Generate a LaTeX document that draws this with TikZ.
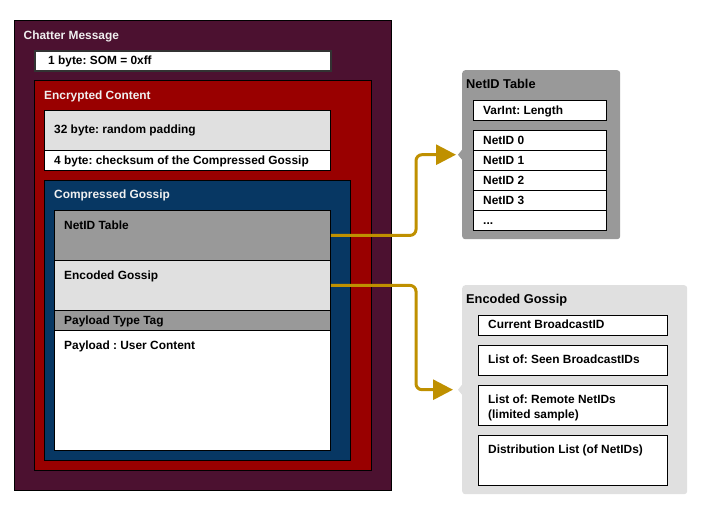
\documentclass[tikz,border=0pt]{standalone}
\usepackage{fontspec}
\setmainfont{Liberation Sans}
\usetikzlibrary{arrows.meta,calc}
\definecolor{cpurple}{HTML}{4C1130}
\definecolor{cred}{HTML}{990000}
\definecolor{cblue}{HTML}{073763}
\definecolor{cgray}{HTML}{999999}
\definecolor{clight}{HTML}{E0E0E0}
\definecolor{cgold}{HTML}{BF9000}
\definecolor{ctitle}{HTML}{F0F0F0}
\definecolor{cedge}{HTML}{333333}
\frenchspacing
\begin{document}
\begin{tikzpicture}[x=1pt,y=-1pt,
  box/.style={draw=black, line width=0.8pt, inner sep=0pt, anchor=north west, rectangle},
  grp/.style={inner sep=0pt, anchor=north west, rectangle, rounded corners=3pt},
  txt/.style={anchor=base west, inner sep=0pt, font=\frenchspacing\fontsize{11.9}{15}\selectfont\bfseries, text=black, align=left},
  ttl/.style={txt, text=ctitle},
  gttl/.style={txt, font=\frenchspacing\fontsize{12.8}{15}\selectfont\bfseries},
  conn/.style={draw=cgold, line width=3pt, rounded corners=6pt, -{Triangle[length=20pt,width=20pt]}}]
\useasboundingbox (0,0) rectangle (711,515);
% left structure
\node[box, fill=cpurple, minimum width=377pt, minimum height=470pt] (cm) at (14,20) {};
\node[ttl] (cmt) at ($(cm.north west)+(9.5,19)$) {Chatter Message};
\node[box, fill=white, draw=cedge, line width=1.5pt, minimum width=296pt, minimum height=20pt] (som) at (34,50) {};
\node[txt] (somt) at ($(som.north west)+(14,14)$) {1 byte: SOM = 0xff};
\node[box, fill=cred, minimum width=337pt, minimum height=390pt] (ec) at (34,80) {};
\node[ttl] (ect) at ($(ec.north west)+(10,19)$) {Encrypted Content};
\node[box, fill=clight, minimum width=286pt, minimum height=40pt] (pad) at (44,110) {};
\node[txt] (padt) at ($(pad.north west)+(10,23)$) {32 byte: random padding};
\node[box, fill=white, minimum width=286pt, minimum height=20pt] (chk) at (44,150) {};
\node[txt] (chkt) at ($(chk.north west)+(10,14)$) {4 byte: checksum of the Compressed Gossip};
\node[box, fill=cblue, minimum width=306pt, minimum height=280pt] (cg) at (44,180) {};
\node[ttl] (cgt) at ($(cg.north west)+(10,18)$) {Compressed Gossip};
\node[box, fill=cgray, minimum width=276pt, minimum height=50pt] (nt) at (54,210) {};
\node[txt] (ntt) at ($(nt.north west)+(10,19)$) {NetID Table};
\node[box, fill=clight, minimum width=276pt, minimum height=50pt] (eg) at (54,260) {};
\node[txt] (egt) at ($(eg.north west)+(10,19)$) {Encoded Gossip};
\node[box, fill=cgray, minimum width=276pt, minimum height=20pt] (ptt) at (54,310) {};
\node[txt] (pttt) at ($(ptt.north west)+(10,14)$) {Payload Type Tag};
\node[box, fill=white, minimum width=276pt, minimum height=120pt] (pl) at (54,330) {};
\node[txt] (plt) at ($(pl.north west)+(10,19)$) {Payload : User Content};
% NetID table group
\node[grp, fill=cgray, minimum width=158pt, minimum height=169pt] (ntg) at (462,70) {};
\fill[cgray] ([xshift=-4pt]ntg.west) -- ([yshift=5pt]ntg.west) -- ([yshift=-5pt]ntg.west) -- cycle;
\node[gttl] (ntgt) at ($(ntg.north west)+(4,18.5)$) {NetID Table};
\node[box, fill=white, minimum width=133pt, minimum height=20pt] (vl) at (473,100) {};
\node[txt] (vlt) at ($(vl.north west)+(10,14)$) {VarInt: Length};
\foreach \i in {0,1,2,3}{
  \node[box, fill=white, minimum width=133pt, minimum height=20pt] (n\i) at (473,130+20*\i) {};
  \node[txt] (n\i t) at ($(n\i.north west)+(10,14)$) {NetID \i};
}
\node[box, fill=white, minimum width=133pt, minimum height=20pt] (n4) at (473,210) {};
\node[txt] (n4t) at ($(n4.north west)+(10,14)$) {...};
% Encoded gossip group
\node[grp, fill=clight, minimum width=225pt, minimum height=209pt] (egg) at (462,285) {};
\fill[clight] ([xshift=-4pt]egg.west) -- ([yshift=5pt]egg.west) -- ([yshift=-5pt]egg.west) -- cycle;
\node[gttl] (eggt) at ($(egg.north west)+(4,18.5)$) {Encoded Gossip};
\node[box, fill=white, minimum width=189pt, minimum height=20pt] (cb) at (478,315) {};
\node[txt] (cbt) at ($(cb.north west)+(10,13)$) {Current BroadcastID};
\node[box, fill=white, minimum width=189pt, minimum height=30pt] (sb) at (478,345) {};
\node[txt] (sbt) at ($(sb.north west)+(10,18)$) {List of: Seen BroadcastIDs};
\node[box, fill=white, minimum width=189pt, minimum height=40pt] (rn) at (478,385) {};
\node[txt] (rnt) at ($(rn.north west)+(10,33)$) {List of: Remote NetIDs\\(limited sample)};
\node[box, fill=white, minimum width=189pt, minimum height=50pt] (dl) at (478,435) {};
\node[txt] (dlt) at ($(dl.north west)+(10,18)$) {Distribution List (of NetIDs)};
% connectors
\draw[conn] (nt.east) -| ([xshift=-46pt]ntg.west) -- ([xshift=-6pt]ntg.west);
\draw[conn] (eg.east) -| ([xshift=-46pt]egg.west) -- ([xshift=-9pt]egg.west);
\end{tikzpicture}
\end{document}
